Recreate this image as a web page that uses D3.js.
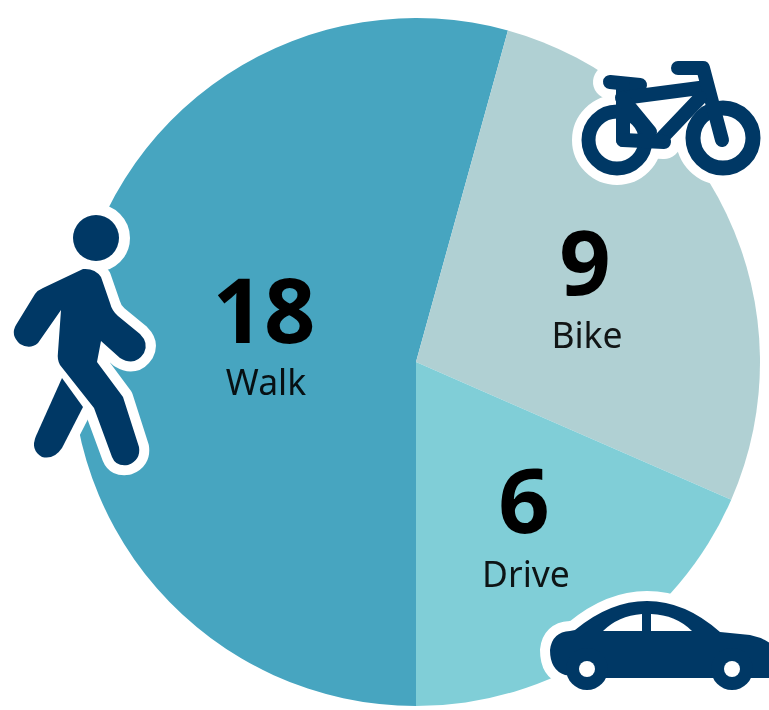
<!DOCTYPE html>
<html>
<head>
<meta charset="utf-8">
<script src="https://cdn.jsdelivr.net/npm/d3@7"></script>
<style>
html, body { margin: 0; padding: 0; background: #fff; overflow: hidden; }
svg { display: block; filter: blur(0.7px); }
text { font-family: "Noto Sans", sans-serif; text-anchor: middle; fill: #000; }
</style>
</head>
<body>
<svg id="canvas" width="769" height="710"></svg>
<script>
const categories = ["Walk", "Bike", "Drive"];
const valores = [18, 9, 6];
// Grados de cada porcion medidos en el dibujo (no son del todo proporcionales a los valores)
const grados = [195.5, 98.1, 66.4];

const width = 769, height = 710;
const R = 344;
const centerX = 416, centerY = 362;
const navy = "#003865";
const halo = 20;

const color = d3.scaleOrdinal().domain(categories).range(["#47a5c0", "#b0d0d3", "#80ced7"]);

// donde va cada etiqueta: x, base del numero, base del nombre
const labelPos = {
    Walk: [264, 343, 395],
    Bike: [585, 295, 348],
    Drive: [524, 533, 587]
};

const svg = d3.select("#canvas");

// Porciones, empezando abajo y en sentido horario
const pie = d3.pie().sort(null).startAngle(Math.PI).endAngle(3 * Math.PI);
const arc = d3.arc().innerRadius(0).outerRadius(R);

const slices = pie(grados);

svg.append("g")
    .attr("transform", `translate(${centerX},${centerY})`)
    .selectAll("path")
    .data(slices)
    .join("path")
    .attr("d", arc)
    .attr("fill", (d, i) => color(categories[i]));

// Numeros y nombres
categories.forEach((c, i) => {
    const p = labelPos[c];
    svg.append("text")
        .attr("x", p[0]).attr("y", p[1])
        .attr("font-size", 90)
        .attr("font-weight", 700)
        .text(valores[i]);
    svg.append("text")
        .attr("x", p[0] + 2).attr("y", p[2])
        .attr("font-size", 35.5)
        .attr("fill-opacity", 0.9)
        .text(c);
});

// Iconos
const walkBody = "M83 269 Q95 268 101 277 L110 303 Q112 311 118 316 L140 334 Q149 343 144 353 Q135 367 120 358 L101 341 L97 362 L123 397 L139 447 Q141 460 128 465 Q116 467 112 457 L94 408 L60 365 Q57 360 58 352 L61 310 L38 343 Q30 350 20 344 Q10 335 16 325 L35 294 Q38 290 43 288 Z";
const walkLeg = "M62 378 L83 407 L62 448 Q54 460 42 457 Q30 450 36 436 Z";

const bikeTubes = [
    "M610 82 L640 85",
    "M623 85 L623 140",
    "M623 98 L707 87",
    "M678 68 L703 68 L722 140",
    "M700 98 L660 140",
    "M623 140 L664 142",
    "M622 98 L650 132"
];

const carBody = "M550 650 Q552 632 570 631 L575 630 Q610 601 647 601 Q685 601 720 632 L750 635 Q765 638 775 647 L775 678 L745 678 L587 678 L565 675 Q550 670 550 650 Z";
const carWindows = [
    "M603 631 Q618 616 642 614 L642 631 Z",
    "M651 614 Q676 615 692 631 L651 631 Z"
];
const wheels = [[587, 669], [732, 669]];

// Halo blanco de cada icono, debajo de todo
const under = svg.append("g").attr("fill", "#fff").attr("stroke", "#fff")
    .attr("stroke-linejoin", "round").attr("stroke-linecap", "round");

under.append("circle").attr("cx", 96).attr("cy", 238).attr("r", 24).attr("stroke-width", halo);
under.append("path").attr("d", walkBody).attr("stroke-width", halo);
under.append("path").attr("d", walkLeg).attr("stroke-width", halo);

under.append("circle").attr("cx", 617).attr("cy", 140).attr("r", 35).attr("stroke-width", halo);
under.append("circle").attr("cx", 723).attr("cy", 138).attr("r", 37).attr("stroke-width", halo);
under.selectAll("path.tubo").data(bikeTubes).join("path")
    .attr("class", "tubo").attr("d", d => d).attr("fill", "none")
    .attr("stroke-width", 14 + halo);

under.append("path").attr("d", carBody).attr("stroke-width", halo);
wheels.forEach(w => {
    under.append("circle").attr("cx", w[0]).attr("cy", w[1]).attr("r", 21).attr("stroke-width", halo);
});

// Peaton
svg.append("circle").attr("cx", 96).attr("cy", 238).attr("r", 23).attr("fill", navy);
svg.append("path").attr("d", walkLeg).attr("fill", navy);
svg.append("path").attr("d", walkBody).attr("fill", navy)
    .attr("stroke", "#fff").attr("stroke-width", 5).attr("paint-order", "stroke");

// Bici
[[617, 140, 28.5, 14], [723, 138, 30, 15]].forEach(w => {
    svg.append("circle").attr("cx", w[0]).attr("cy", w[1]).attr("r", w[2])
        .attr("fill", "#fff").attr("stroke", navy).attr("stroke-width", w[3]);
});
svg.selectAll("path.cuadro").data(bikeTubes).join("path")
    .attr("class", "cuadro").attr("d", d => d).attr("fill", "none")
    .attr("stroke", navy).attr("stroke-width", 14)
    .attr("stroke-linecap", "round").attr("stroke-linejoin", "round");

// Coche
svg.append("path").attr("d", carBody).attr("fill", navy);
svg.selectAll("path.ventana").data(carWindows).join("path")
    .attr("class", "ventana").attr("d", d => d).attr("fill", "#fff");
wheels.forEach(w => {
    svg.append("circle").attr("cx", w[0]).attr("cy", w[1]).attr("r", 21).attr("fill", navy);
    svg.append("circle").attr("cx", w[0]).attr("cy", w[1]).attr("r", 8).attr("fill", "#fff");
});
</script>
</body>
</html>
